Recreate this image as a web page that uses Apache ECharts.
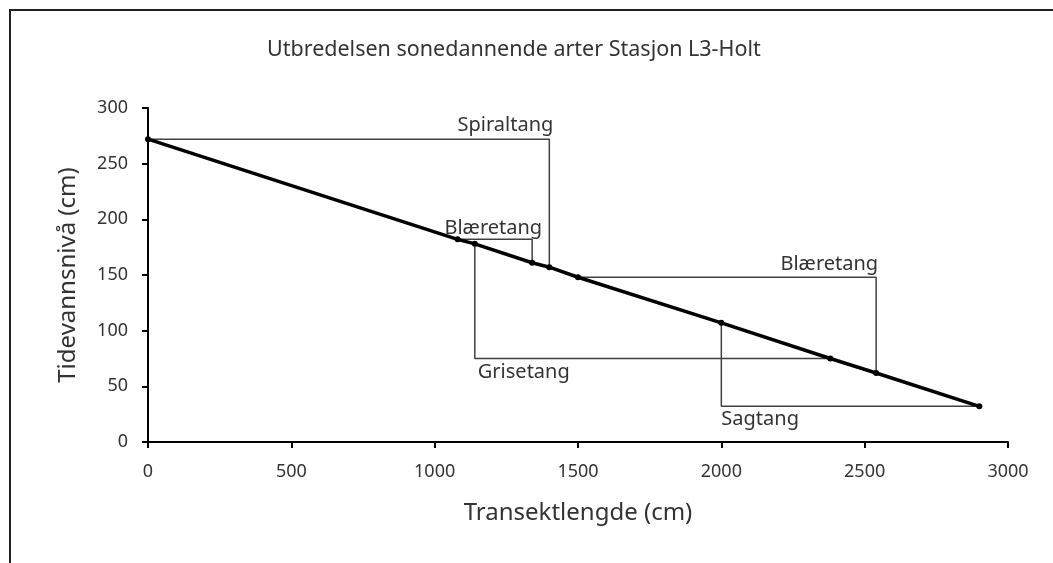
<!DOCTYPE html>
<html>
<head>
<meta charset="utf-8">
<script src="https://cdn.jsdelivr.net/npm/echarts@6/dist/echarts.min.js"></script>
<style>html,body{margin:0;padding:0;background:#fff;}#c{width:1053px;height:563px;}</style>
</head>
<body>
<div id="c"></div>
<script>
// Main transect profile
const lengthX = [0, 1080, 1140, 1340, 1400, 1500, 2000, 2380, 2540, 2900];
const levelY = [272, 182, 178, 161, 157, 148, 107, 75, 62, 32];
// Zone brackets (species distribution)
const spiraltang = [[0, 272], [1400, 272], [1400, 157]];
const blaeretang1 = [[1080, 182], [1340, 182], [1340, 161]];
const grisetang = [[1140, 178], [1140, 75], [2380, 75]];
const blaeretang2 = [[1500, 148], [2540, 148], [2540, 62]];
const sagtang = [[2000, 107], [2000, 32], [2900, 32]];
const xTicks = [0, 500, 1000, 1500, 2000, 2500, 3000];
const yTicks = [0, 50, 100, 150, 200, 250, 300];

const FONT = 'Noto Sans';
const TXT = '#333';

function bracket(name, pts, labelIdx, labelOpt) {
  return {
    name: name, type: 'line', symbol: 'circle', symbolSize: 1, showAllSymbol: true, z: 2,
    itemStyle: { color: 'rgba(0,0,0,0)' },
    lineStyle: { color: '#404040', width: 1.5 },
    data: pts.map((p, i) => i === labelIdx ? {
      value: p,
      label: Object.assign({ show: true, formatter: name, color: TXT, fontFamily: FONT, fontSize: 20 }, labelOpt)
    } : { value: p }),
    silent: true, animation: false
  };
}

const chart = echarts.init(document.getElementById('c'), null, { renderer: 'canvas' });
chart.setOption({
  animation: false,
  backgroundColor: '#fff',
  graphic: [{
    type: 'rect', shape: { x: 10, y: 10, width: 1100, height: 600 },
    style: { fill: 'none', stroke: '#222', lineWidth: 2 }, z: -1
  }],
  title: {
    text: 'Utbredelsen sonedannende arter Stasjon L3-Holt',
    left: 262, top: 34,
    textStyle: { fontFamily: FONT, fontSize: 21.5, fontWeight: 'normal', color: TXT }
  },
  grid: { left: 148, right: 45, top: 108, bottom: 121, containLabel: false },
  xAxis: {
    type: 'value', min: xTicks[0], max: xTicks[xTicks.length - 1], interval: 500,
    name: 'Transektlengde (cm)', nameLocation: 'middle', nameGap: 59,
    nameTextStyle: { fontFamily: FONT, fontSize: 24, color: TXT },
    axisLine: { show: true, lineStyle: { color: '#000', width: 2 } },
    axisTick: { show: true, length: 6, lineStyle: { color: '#000', width: 2 } },
    axisLabel: { fontFamily: FONT, fontSize: 18, color: TXT, margin: 21, formatter: v => String(v) },
    splitLine: { show: false }
  },
  yAxis: {
    type: 'value', min: yTicks[0], max: yTicks[yTicks.length - 1], interval: 50,
    name: 'Tidevannsnivå (cm)', nameLocation: 'middle', nameGap: 68,
    nameTextStyle: { fontFamily: FONT, fontSize: 24, color: TXT },
    axisLine: { show: true, lineStyle: { color: '#000', width: 2 } },
    axisTick: { show: true, length: 6, lineStyle: { color: '#000', width: 2 } },
    axisLabel: { fontFamily: FONT, fontSize: 18, color: TXT, margin: 20, formatter: v => String(v) },
    splitLine: { show: false }
  },
  series: [
    bracket('Spiraltang', spiraltang, 1, { position: 'top', align: 'right', offset: [4, 0], distance: 3 }),
    bracket('Blæretang', blaeretang1, 1, { position: 'top', align: 'right', offset: [10, 0], distance: 1 }),
    bracket('Grisetang', grisetang, 1, { position: 'bottom', align: 'left', offset: [3, 0], distance: 3 }),
    bracket('Blæretang', blaeretang2, 1, { position: 'top', align: 'right', offset: [2, 0], distance: 2 }),
    bracket('Sagtang', sagtang, 1, { position: 'bottom', align: 'left', offset: [0, 0], distance: 2 }),
    {
      name: 'Profil', type: 'line', z: 5,
      data: lengthX.map((x, i) => [x, levelY[i]]),
      symbol: 'circle', symbolSize: 6, showAllSymbol: true,
      itemStyle: { color: '#000' },
      lineStyle: { color: '#000', width: 3.5 },
      silent: true
    }
  ]
});
</script>
</body>
</html>
